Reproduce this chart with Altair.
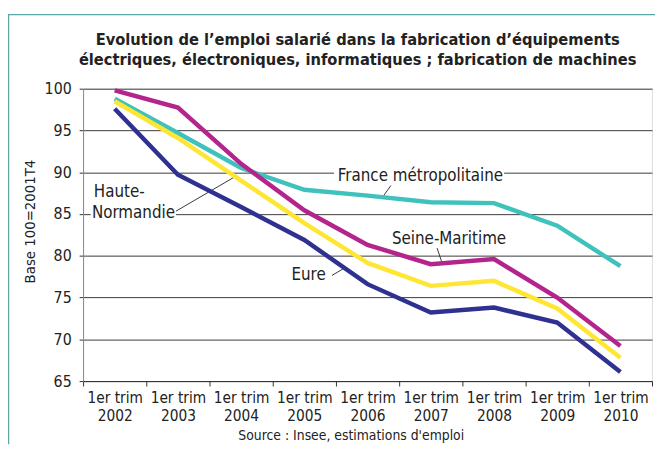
import json
import altair as alt
import pandas as pd

FONT = "DejaVu Sans Condensed, Liberation Sans Narrow, sans-serif"

years = ["2002", "2003", "2004", "2005", "2006", "2007", "2008", "2009", "2010"]
series_names = ["France métropolitaine", "Haute-Normandie", "Eure", "Seine-Maritime"]
series_colors = ["#3fc1bc", "#ffe633", "#2e3190", "#b3258c"]

france = [98.8, 94.7, 90.5, 87.9, 87.2, 86.4, 86.3, 83.6, 78.75]
haute_normandie = [98.5, 94.1, 89.0, 83.9, 79.15, 76.4, 77.0, 73.7, 67.8]
eure = [97.6, 89.7, 85.85, 81.9, 76.6, 73.2, 73.8, 72.0, 66.1]
seine_maritime = [99.8, 97.75, 91.0, 85.45, 81.3, 79.0, 79.6, 75.0, 69.2]

# annotations (data coordinates: x = year index, y = index value)
label_text = ["France métropolitaine", "Seine-Maritime", "Haute-", "Normandie", "Eure"]
label_x = [3.53, 4.386, -0.33, -0.36, 2.797]
label_y = [89.0, 81.44, 87.03, 84.47, 77.1]

leader_x1 = [0.969, 4.234, 5.10, 3.4375]
leader_y1 = [85.34, 86.99, 80.92, 77.65]
leader_x2 = [1.886, 4.37, 5.17, 3.614]
leader_y2 = [89.39, 88.41, 79.34, 78.44]

gap_x1 = [3.47, -0.38]
gap_x2 = [6.16, 0.97]
gap_y1 = [89.4, 84.4]
gap_y2 = [90.6, 85.6]

title_lines = [
    "Evolution de l\u2019emploi salari\u00e9 dans la fabrication d\u2019\u00e9quipements",
    "\u00e9lectriques, \u00e9lectroniques, informatiques ; fabrication de machines",
]
y_title = "Base 100=2001T4"
source = "Source : Insee, estimations d'emploi"

values_by_series = [france, haute_normandie, eure, seine_maritime]
rows = []
for name, vals in zip(series_names, values_by_series):
    for i, v in enumerate(vals):
        rows.append({"idx": i, "serie": name, "value": v})
df = pd.DataFrame(rows)

labels_df = pd.DataFrame({"t": label_text, "x": label_x, "y": label_y})
leaders_df = pd.DataFrame({"x": leader_x1, "y": leader_y1, "x2": leader_x2, "y2": leader_y2})
gaps_df = pd.DataFrame({"x": gap_x1, "x2": gap_x2, "y": gap_y1, "y2": gap_y2})

tick_values = [i / 2 - 0.5 for i in range(19)]
label_expr = (
    "datum.value % 1 === 0 ? ['1er trim', " + json.dumps(years) + "[datum.value]] : ''"
)

x_axis = alt.Axis(
    values=tick_values,
    labelExpr=label_expr,
    grid=False,
    domainColor="#333333",
    tickColor="#333333",
    tickOpacity={"condition": {"test": "datum.value % 1 !== 0", "value": 1}, "value": 0},
    tickSize=5,
    labelFont=FONT,
    labelFontSize=15.5,
    labelLineHeight=18,
    labelColor="#222222",
    labelPadding=5,
    labelOverlap=False,
    labelFlush=False,
    title=source,
    titleFont=FONT,
    titleFontSize=14,
    titleFontWeight="normal",
    titleColor="#222222",
    titlePadding=5,
    titleX=271,
    titleAlign="center",
    titleAnchor="start",
)

y_axis = alt.Axis(
    values=[65, 70, 75, 80, 85, 90, 95, 100],
    grid=True,
    gridColor="#3a3a3a",
    gridWidth=1,
    domainColor="#888888",
    tickColor="#333333",
    tickSize=4,
    labelFont=FONT,
    labelFontSize=16,
    labelColor="#222222",
    labelPadding=8,
    title=y_title,
    titleFont=FONT,
    titleFontSize=15,
    titleFontWeight="normal",
    titleColor="#222222",
    titleX=-54,
    titleY=134,
    titleBaseline="middle",
    titleAlign="center",
    titleAngle=270,
)

x_scale = alt.Scale(domain=[-0.5, 8.5], nice=False, zero=False)
y_scale = alt.Scale(domain=[65, 100], nice=False, zero=False)


def xenc(field):
    return alt.X(field, type="quantitative", scale=x_scale, axis=x_axis, title=source)


def yenc(field):
    return alt.Y(field, type="quantitative", scale=y_scale, axis=y_axis, title=y_title)


gaps = alt.Chart(gaps_df).mark_rect(fill="white").encode(
    x=xenc("x"), x2="x2:Q", y=yenc("y"), y2="y2:Q"
)

leaders = alt.Chart(leaders_df).mark_rule(color="#222222", strokeWidth=0.9).encode(
    x=xenc("x"), x2="x2:Q", y=yenc("y"), y2="y2:Q"
)

labels = alt.Chart(labels_df).mark_text(
    align="left", baseline="alphabetic", font=FONT, fontSize=17, color="#222222"
).encode(x=xenc("x"), y=yenc("y"), text="t:N")

lines = alt.Chart(df).mark_line(strokeWidth=4.5, strokeJoin="miter").encode(
    x=xenc("idx"),
    y=yenc("value"),
    color=alt.Color(
        "serie:N",
        scale=alt.Scale(domain=series_names, range=series_colors),
        legend=None,
    ),
)

frame_df = pd.DataFrame({"a": [0]})
frame_left = alt.Chart(frame_df).mark_rule(color="#5aa9a6", strokeWidth=1.5).encode(
    x=alt.value(-75.5), y=alt.value(-75), y2=alt.value(360)
)
frame_top = alt.Chart(frame_df).mark_rule(color="#5aa9a6", strokeWidth=1.5).encode(
    x=alt.value(-76), x2=alt.value(580), y=alt.value(-75)
)

chart = (
    alt.layer(gaps, leaders, labels, lines, frame_left, frame_top)
    .properties(
        width=576,
        height=296,
        autosize=alt.AutoSizeParams(type="none"),
        padding={"left": 76, "top": 79, "right": 3, "bottom": 62},
        title=alt.TitleParams(
            text=title_lines,
            font=FONT,
            fontSize=16.5,
            fontWeight="bold",
            color="#222222",
            anchor="middle",
            frame="group",
            dx=-10,
            dy=55,
            lineHeight=20,
            offset=0,
        ),
    )
    .configure_view(stroke=None)
    .configure(background="white")
)

chart.save("out.html", embed_options={"renderer": "svg", "actions": False})
